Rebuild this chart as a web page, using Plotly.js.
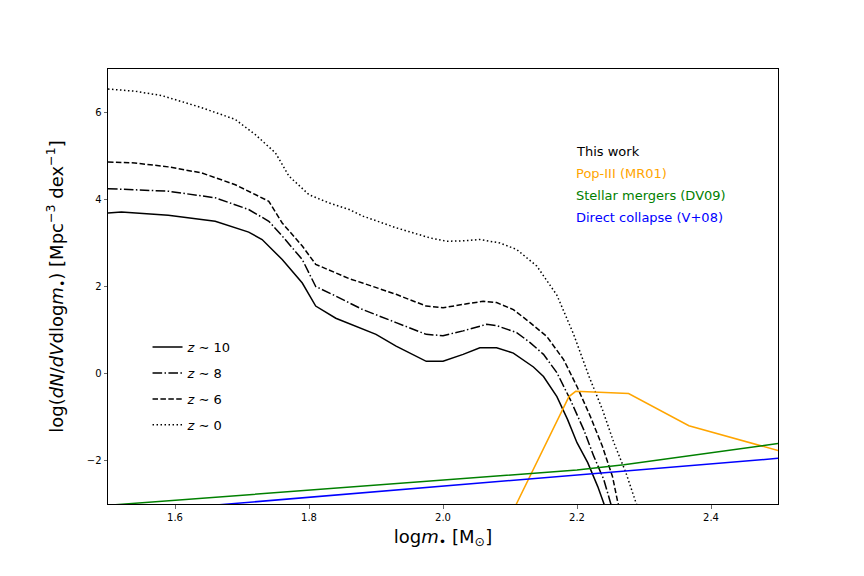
<!DOCTYPE html>
<html>
<head>
<meta charset="utf-8">
<script src="https://cdn.plot.ly/plotly-3.0.1.min.js"></script>
<style>
  body { margin: 0; background: #fff; }
  #imf { width: 864px; height: 576px; }
</style>
</head>
<body>
<div id="imf"></div>
<script>
// mass function of seed black holes, this work vs. literature

// this work, z~10
var z10X = [1.50, 1.52, 1.59, 1.66, 1.71, 1.73, 1.76, 1.79, 1.81, 1.84, 1.90, 1.93, 1.975, 2.00, 2.03, 2.055, 2.08, 2.105, 2.135, 2.15, 2.17, 2.186, 2.20, 2.216, 2.231, 2.245]
var z10Y = [3.69, 3.71, 3.64, 3.50, 3.25, 3.08, 2.62, 2.08, 1.55, 1.27, 0.90, 0.63, 0.28, 0.28, 0.44, 0.59, 0.59, 0.47, 0.15, -0.07, -0.53, -1.06, -1.59, -2.05, -2.6, -3.2]

// z~8
var z8X = [1.50, 1.59, 1.66, 1.71, 1.74, 1.76, 1.79, 1.81, 1.84, 1.86, 1.88, 1.93, 1.975, 2.00, 2.03, 2.065, 2.08, 2.11, 2.13, 2.15, 2.17, 2.19, 2.21, 2.225, 2.24, 2.25, 2.26]
var z8Y = [4.25, 4.19, 4.04, 3.77, 3.5, 3.16, 2.62, 2.0, 1.78, 1.63, 1.47, 1.17, 0.90, 0.87, 0.98, 1.13, 1.10, 0.94, 0.71, 0.44, 0.02, -0.6, -1.29, -1.9, -2.44, -2.97, -3.5]

// z~6
var z6X = [1.50, 1.54, 1.59, 1.64, 1.69, 1.71, 1.74, 1.76, 1.79, 1.81, 1.84, 1.86, 1.88, 1.93, 1.975, 2.00, 2.03, 2.06, 2.08, 2.105, 2.13, 2.155, 2.18, 2.20, 2.22, 2.238, 2.253, 2.261, 2.27]
var z6Y = [4.86, 4.84, 4.75, 4.61, 4.34, 4.19, 3.96, 3.46, 2.93, 2.51, 2.31, 2.18, 2.08, 1.82, 1.55, 1.51, 1.59, 1.66, 1.63, 1.47, 1.17, 0.85, 0.32, -0.3, -0.99, -1.68, -2.37, -2.97, -3.4]

// z~0
var z0X = [1.50, 1.54, 1.58, 1.64, 1.69, 1.72, 1.75, 1.77, 1.80, 1.83, 1.86, 1.88, 1.93, 1.98, 2.005, 2.03, 2.055, 2.085, 2.11, 2.14, 2.17, 2.195, 2.218, 2.238, 2.255, 2.273, 2.288, 2.30]
var z0Y = [6.54, 6.49, 6.39, 6.11, 5.84, 5.49, 5.07, 4.54, 4.11, 3.92, 3.77, 3.62, 3.35, 3.12, 3.04, 3.05, 3.08, 3.0, 2.85, 2.47, 1.8, 0.9, -0.07, -0.83, -1.59, -2.28, -2.97, -3.4]

// Pop-III (MR01)
var popX = [2.10, 2.188, 2.198, 2.277, 2.367, 2.50]
var popY = [-3.3, -0.53, -0.41, -0.46, -1.2, -1.77]

// Stellar mergers (DV09)
var mergX = [1.5, 1.8, 2.0, 2.1, 2.2, 2.27, 2.35, 2.42, 2.5]
var mergY = [-3.03, -2.69, -2.46, -2.34, -2.22, -2.1, -1.93, -1.78, -1.61]

// Direct collapse (V+08)
var dcX = [1.5, 2.5]
var dcY = [-3.23, -1.95]

var legendNames = ["<i>z</i> ∼ 10", "<i>z</i> ∼ 8", "<i>z</i> ∼ 6", "<i>z</i> ∼ 0"]

var font = "DejaVu Sans, sans-serif"

var trace1 = {x: z10X, y: z10Y, name: legendNames[0], legendgroup: "a", mode: "lines",
    line: {color: "black", width: 1.5, dash: "solid"}}
var trace2 = {x: z8X, y: z8Y, name: legendNames[1], legendgroup: "b", mode: "lines",
    line: {color: "black", width: 1.5, dash: "9.6px,2.4px,1.5px,2.4px"}}
var trace3 = {x: z6X, y: z6Y, name: legendNames[2], legendgroup: "c", mode: "lines",
    line: {color: "black", width: 1.5, dash: "5.5px,2.4px"}}
var trace4 = {x: z0X, y: z0Y, name: legendNames[3], legendgroup: "d", mode: "lines",
    line: {color: "black", width: 1.5, dash: "1.5px,2.5px"}}
var trace5 = {x: popX, y: popY, showlegend: false, mode: "lines",
    line: {color: "#FFA500", width: 1.5}}
var trace6 = {x: mergX, y: mergY, showlegend: false, mode: "lines",
    line: {color: "#008000", width: 1.5}}
var trace7 = {x: dcX, y: dcY, showlegend: false, mode: "lines",
    line: {color: "#0000FF", width: 1.5}}

var data = [trace1, trace2, trace3, trace4, trace5, trace6, trace7]

var notes = [
  ["This work", "black"],
  ["Pop-III (MR01)", "#FFA500"],
  ["Stellar mergers (DV09)", "#008000"],
  ["Direct collapse (V+08)", "#0000FF"]
]
var annotations = []
for (let i = 0; i < notes.length; i++) {
    annotations.push({
        xref: "paper", yref: "paper", x: 0.696, y: 0.811 - i * 0.0505,
        xanchor: "left", yanchor: "middle", showarrow: false,
        text: notes[i][0], font: {family: font, size: 13, color: notes[i][1]}
    })
}

var layout = {
    width: 864, height: 576,
    margin: {l: 108, r: 86, t: 69, b: 72},
    paper_bgcolor: "white", plot_bgcolor: "white",
    font: {family: font, size: 10, color: "black"},
    showlegend: true,
    legend: {x: 0.059, y: 0.395, xanchor: "left", yanchor: "top",
        bgcolor: "rgba(0,0,0,0)", borderwidth: 0,
        font: {family: font, size: 13}, traceorder: "grouped", tracegroupgap: 6},
    xaxis: {range: [1.5, 2.5], tick0: 1.6, dtick: 0.2, tickformat: ".1f",
        ticks: "outside", ticklen: 3.5, tickwidth: 0.8, showgrid: false, zeroline: false,
        showline: true, mirror: true, linecolor: "black", linewidth: 1,
        title: {text: "log<i>m</i><sub>•</sub> [M<sub>⊙</sub>]", font: {family: font, size: 18}, standoff: 8}},
    yaxis: {range: [-3, 7], tick0: 0, dtick: 2,
        ticks: "outside", ticklen: 3.5, tickwidth: 0.8, showgrid: false, zeroline: false,
        showline: true, mirror: true, linecolor: "black", linewidth: 1,
        title: {text: "log(<i>dN</i>/<i>dV</i>dlog<i>m</i><sub>•</sub>) [Mpc<sup>−3</sup> dex<sup>−1</sup>]",
            font: {family: font, size: 18}, standoff: 18}},
    annotations: annotations
}

Plotly.newPlot("imf", data, layout, {staticPlot: true})
</script>
</body>
</html>
